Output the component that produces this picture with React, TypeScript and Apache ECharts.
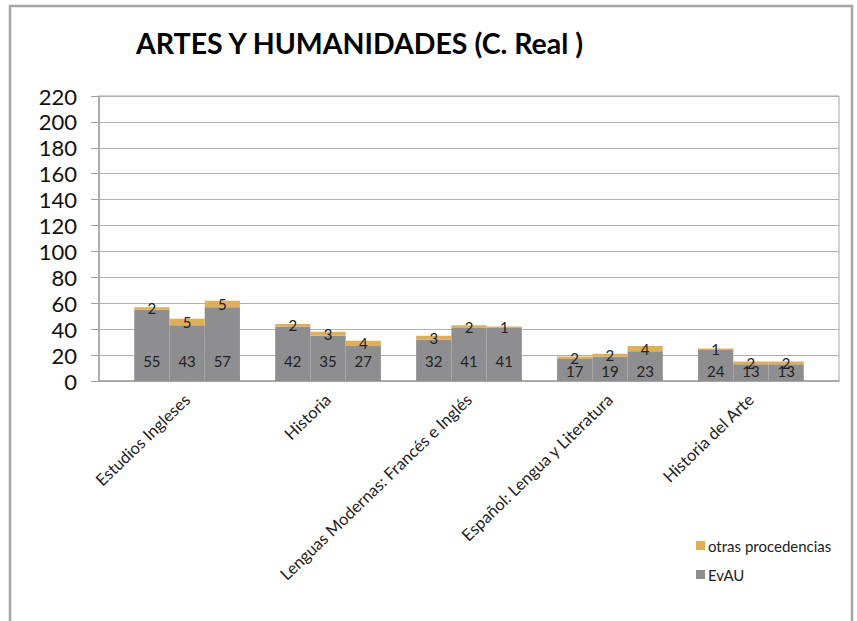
import React, { useEffect, useRef } from "react";
import * as echarts from "echarts";

const categories = [
  "Estudios Ingleses",
  "Historia",
  "Lenguas Modernas: Francés e Inglés",
  "Español: Lengua y Literatura",
  "Historia del Arte",
];
const evau = [
  [55, 43, 57],
  [42, 35, 27],
  [32, 41, 41],
  [17, 19, 23],
  [24, 13, 13],
];
const otras = [
  [2, 5, 5],
  [2, 3, 4],
  [3, 2, 1],
  [2, 2, 4],
  [1, 2, 2],
];
const yTicks = { min: 0, max: 220, interval: 20 };

const FONT = "Lato, 'Noto Sans', sans-serif";

// build slot layout: one empty slot before each group, plus trailing empty slot
function buildSlots() {
  const labels: string[] = [];
  const ev: any[] = [];
  const ot: any[] = [];
  categories.forEach((c, ci) => {
    labels.push("");
    ev.push(null);
    ot.push(null);
    evau[ci].forEach((v, bi) => {
      labels.push(bi === 1 ? c : "");
      ev.push({ value: v, label: { distance: ci < 3 ? 13 : 3 } });
      ot.push(otras[ci][bi]);
    });
  });
  labels.push("");
  ev.push(null);
  ot.push(null);
  return { labels, ev, ot };
}

export default function App() {
  const ref = useRef<HTMLDivElement>(null);
  useEffect(() => {
    if (!ref.current) return;
    const chart = echarts.init(ref.current, null, { renderer: "svg" });
    const { labels, ev, ot } = buildSlots();
    chart.setOption({
      animation: false,
      backgroundColor: "#fff",
      textStyle: { fontFamily: FONT },
      title: {
        text: "ARTES Y HUMANIDADES (C. Real )",
        left: 131,
        top: 23,
        textStyle: { fontFamily: FONT, fontSize: 28.5, fontWeight: "bold", color: "#000" },
      },
      graphic: [
        {
          type: "rect",
          shape: { x: 10, y: 6, width: 842, height: 700 },
          style: { fill: "none", stroke: "#a6a6a6", lineWidth: 2.5 },
          silent: true,
        },
      ],
      legend: {
        orient: "vertical",
        left: 691,
        top: 533,
        itemWidth: 9,
        itemHeight: 9,
        itemGap: 14,
        icon: "rect",
        data: ["otras procedencias", "EvAU"],
        textStyle: { fontFamily: FONT, fontSize: 15, color: "#222", padding: [0, 0, 0, -2] },
      },
      grid: {
        left: 99,
        right: 18,
        top: 96,
        bottom: 240,
        show: true,
        borderColor: "#a6a6a6",
        borderWidth: 1,
      },
      xAxis: {
        type: "category",
        data: labels,
        axisLine: { lineStyle: { color: "#a0a0a0", width: 1.5 } },
        axisTick: { interval: 0, length: 6, lineStyle: { color: "#a0a0a0" } },
        axisLabel: {
          interval: 0,
          rotate: 44,
          margin: 16,
          fontFamily: FONT,
          fontSize: 16.5,
          color: "#222",
        },
      },
      yAxis: {
        type: "value",
        min: yTicks.min,
        max: yTicks.max,
        interval: yTicks.interval,
        axisLine: { show: true, lineStyle: { color: "#a0a0a0", width: 1.5 } },
        axisTick: { show: true, length: 8, lineStyle: { color: "#a0a0a0" } },
        splitLine: { lineStyle: { color: "#b0b0b0", width: 1 } },
        axisLabel: { margin: 22, fontFamily: FONT, fontSize: 22, color: "#111" },
      },
      series: [
        {
          name: "EvAU",
          type: "bar",
          stack: "t",
          barCategoryGap: "0%",
          data: ev,
          itemStyle: { color: "#8e8e91" },
          label: {
            show: true,
            position: "insideBottom",
            fontFamily: FONT,
            fontSize: 15,
            color: "#222",
          },
        },
        {
          name: "otras procedencias",
          type: "bar",
          stack: "t",
          barCategoryGap: "0%",
          data: ot,
          itemStyle: { color: "#dfae5b" },
          label: {
            show: true,
            position: "inside",
            fontFamily: FONT,
            fontSize: 15,
            color: "#222",
          },
        },
      ],
    });
    return () => chart.dispose();
  }, []);
  return (
    <div
      ref={ref}
      style={{ position: "fixed", left: 0, top: 0, width: 857, height: 621 }}
    />
  );
}
